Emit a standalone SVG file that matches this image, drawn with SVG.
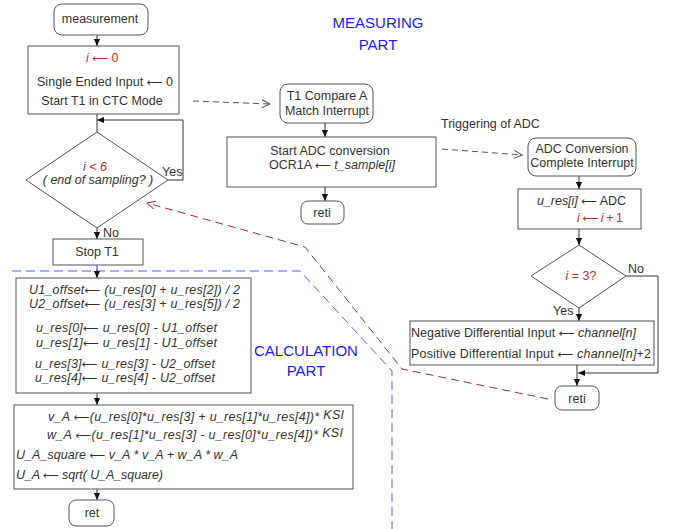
<svg xmlns="http://www.w3.org/2000/svg" width="674" height="529" viewBox="0 0 674 529">
<defs>
<style>
.bg{fill:#fff}
.box{fill:#fff;stroke:#555;stroke-width:1}
.t{font-family:"Liberation Sans",Arial,sans-serif;font-size:12.5px;fill:#333}
.m{text-anchor:middle}
.i{font-style:italic}
.a{font-family:"DejaVu Sans",sans-serif;font-style:normal;font-size:11px}
.r{fill:#b03030}
.blue{font-family:"Liberation Sans",Arial,sans-serif;font-size:15px;fill:#1a1aff;text-anchor:middle}
.ln{fill:none;stroke:#333;stroke-width:1}
.dg{fill:none;stroke:#555;stroke-width:1;stroke-dasharray:6,4}
.dr{fill:none;stroke:#a03030;stroke-width:1;stroke-dasharray:8,5}
.db{fill:none;stroke:#5060ff;stroke-width:1;stroke-dasharray:9,5}
</style>
<marker id="ah" viewBox="0 0 8 8" refX="8" refY="4" markerWidth="7" markerHeight="7" markerUnits="userSpaceOnUse" orient="auto"><path d="M0,0.5 L8,4 L0,7.5z" fill="#111"/></marker>
<marker id="oa" viewBox="0 0 10 10" refX="9" refY="5" markerWidth="10" markerHeight="10" markerUnits="userSpaceOnUse" orient="auto"><path d="M1,1 L9,5 L1,9" fill="none" stroke="#555"/></marker>
<marker id="or" viewBox="0 0 10 10" refX="9" refY="5" markerWidth="10" markerHeight="10" markerUnits="userSpaceOnUse" orient="auto"><path d="M1,1 L9,5 L1,9" fill="none" stroke="#a03030"/></marker>
</defs>
<rect class="bg" x="0" y="0" width="674" height="529"/>

<g id="section-labels">
<text class="blue" x="378" y="28">MEASURING</text>
<text class="blue" x="378" y="50">PART</text>
<text class="blue" x="306" y="356">CALCULATION</text>
<text class="blue" x="306" y="376">PART</text>
</g>

<g id="connectors">
<path class="db" d="M12,271 L300,271 L392,371 L392,529"/>
<path class="dr" d="M548,399 L402,369 L305,247 L147,203" marker-end="url(#or)"/>
<path class="dg" d="M193,101 L270,104" marker-end="url(#oa)"/>
<path class="dg" d="M442,149 L522,155" marker-end="url(#oa)"/>
<path class="ln" d="M97,35 L97,46" marker-end="url(#ah)"/>
<path class="ln" d="M97,114 L97,132"/>
<path class="ln" d="M168,180 L183,180 L183,120 L97,120" marker-end="url(#ah)"/>
<path class="ln" d="M97,228 L97,239" marker-end="url(#ah)"/>
<path class="ln" d="M97,265 L97,278" marker-end="url(#ah)"/>
<path class="ln" d="M97,393 L97,405" marker-end="url(#ah)"/>
<path class="ln" d="M97,489 L97,500" marker-end="url(#ah)"/>
<path class="ln" d="M325,123 L325,137" marker-end="url(#ah)"/>
<path class="ln" d="M325,187 L325,201" marker-end="url(#ah)"/>
<path class="ln" d="M579,176 L579,189" marker-end="url(#ah)"/>
<path class="ln" d="M579,229 L579,245" marker-end="url(#ah)"/>
<path class="ln" d="M579,308 L579,321" marker-end="url(#ah)"/>
<path class="ln" d="M577,365 L577,386" marker-end="url(#ah)"/>
<path class="ln" d="M626,276 L658,276 L658,373 L578,373" marker-end="url(#ah)"/>
<text class="t" x="162" y="176">Yes</text>
<text class="t" x="103" y="237">No</text>
<text class="t" x="628" y="273">No</text>
<text class="t" x="553" y="315">Yes</text>
<text class="t" x="441" y="128">Triggering of ADC</text>
</g>

<g id="measurement">
<rect class="box" x="54" y="4" width="94" height="31" rx="8"/>
<text class="t m" x="100" y="23">measurement</text>
</g>

<g id="init">
<rect class="box" x="28" y="46" width="151" height="68"/>
<text class="t r" x="86" y="62"><tspan class="i">i</tspan> <tspan class="a">⟵</tspan> 0</text>
<text class="t" x="37" y="86" textLength="136" lengthAdjust="spacing">Single Ended Input <tspan class="a">⟵</tspan> 0</text>
<text class="t m" x="102" y="105">Start T1 in CTC Mode</text>
</g>

<g id="check-sampling">
<polygon class="box" points="97,132 168,180 97,228 26,180"/>
<text class="t m i r" x="95" y="171">i &lt; 6</text>
<text class="t m i" x="98" y="184">( end of sampling? )</text>
</g>

<g id="stop-t1">
<rect class="box" x="53" y="239" width="90" height="26"/>
<text class="t m" x="97" y="256">Stop T1</text>
</g>

<g id="offsets">
<rect class="box" x="16" y="278" width="235" height="115"/>
<text class="t i" x="29" y="294" textLength="211" lengthAdjust="spacing">U1_offset<tspan class="a">⟵</tspan> (u_res[0] + u_res[2]) / 2</text>
<text class="t i" x="29" y="308" textLength="211" lengthAdjust="spacing">U2_offset<tspan class="a">⟵</tspan> (u_res[3] + u_res[5]) / 2</text>
<text class="t i" x="36" y="332" textLength="181" lengthAdjust="spacing">u_res[0]<tspan class="a">⟵</tspan> u_res[0] - U1_offset</text>
<text class="t i" x="36" y="347" textLength="181" lengthAdjust="spacing">u_res[1]<tspan class="a">⟵</tspan> u_res[1] - U1_offset</text>
<text class="t i" x="35" y="368" textLength="180" lengthAdjust="spacing">u_res[3]<tspan class="a">⟵</tspan> u_res[3] - U2_offset</text>
<text class="t i" x="35" y="382" textLength="180" lengthAdjust="spacing">u_res[4]<tspan class="a">⟵</tspan> u_res[4] - U2_offset</text>
</g>

<g id="amplitude">
<rect class="box" x="14" y="405" width="339" height="84"/>
<text class="t i" x="48" y="421" textLength="296" lengthAdjust="spacing">v_A <tspan class="a">⟵</tspan>(u_res[0]*u_res[3] + u_res[1]*u_res[4])* <tspan dy="-2">KSI</tspan></text>
<text class="t i" x="47" y="439" textLength="296" lengthAdjust="spacing">w_A <tspan class="a">⟵</tspan>(u_res[1]*u_res[3] - u_res[0]*u_res[4])* <tspan dy="-2">KSI</tspan></text>
<text class="t i" x="16" y="459" textLength="222" lengthAdjust="spacing">U_A_square <tspan class="a">⟵</tspan>  v_A * v_A + w_A * w_A</text>
<text class="t i" x="16" y="479" textLength="147" lengthAdjust="spacing">U_A <tspan class="a">⟵</tspan> sqrt( U_A_square)</text>
</g>

<g id="ret">
<rect class="box" x="69" y="500" width="45" height="26" rx="7"/>
<text class="t m" x="92" y="517">ret</text>
</g>

<g id="t1-interrupt">
<rect class="box" x="280" y="84" width="93" height="39" rx="8"/>
<text class="t m" x="327" y="100">T1 Compare A</text>
<text class="t m" x="327" y="115">Match Interrupt</text>
</g>

<g id="start-adc">
<rect class="box" x="227" y="137" width="209" height="50"/>
<text class="t m" x="330" y="155">Start ADC conversion</text>
<text class="t" x="269" y="169" textLength="126" lengthAdjust="spacing">OCR1A <tspan class="a">⟵</tspan> <tspan class="i">t_sample[i]</tspan></text>
</g>

<g id="reti-1">
<rect class="box" x="301" y="201" width="43" height="23" rx="7"/>
<text class="t m" x="322" y="217">reti</text>
</g>

<g id="adc-interrupt">
<rect class="box" x="528" y="138" width="108" height="38" rx="8"/>
<text class="t m" x="582" y="153">ADC Conversion</text>
<text class="t m" x="582" y="167">Complete Interrupt</text>
</g>

<g id="store-result">
<rect class="box" x="518" y="189" width="123" height="40"/>
<text class="t" x="537" y="205" textLength="89" lengthAdjust="spacing"><tspan class="i">u_res[i]</tspan> <tspan class="a">⟵</tspan> ADC</text>
<text class="t r" x="577" y="222" textLength="46" lengthAdjust="spacing"><tspan class="i">i</tspan> <tspan class="a">⟵</tspan> <tspan class="i">i</tspan> + 1</text>
</g>

<g id="check-i3">
<polygon class="box" points="579,245 626,276 579,308 531,276"/>
<text class="t m r" x="581" y="280"><tspan class="i">i</tspan> = 3?</text>
</g>

<g id="set-channels">
<rect class="box" x="410" y="321" width="244" height="44"/>
<text class="t" x="411" y="337" textLength="225" lengthAdjust="spacing">Negative Differential Input <tspan class="a">⟵</tspan> <tspan class="i">channel[n]</tspan></text>
<text class="t" x="411" y="358" textLength="240" lengthAdjust="spacing">Positive Differential Input  <tspan class="a">⟵</tspan> <tspan class="i">channel[n]</tspan>+2</text>
</g>

<g id="reti-2">
<rect class="box" x="555" y="386" width="44" height="24" rx="7"/>
<text class="t m" x="577" y="403">reti</text>
</g>
</svg>
